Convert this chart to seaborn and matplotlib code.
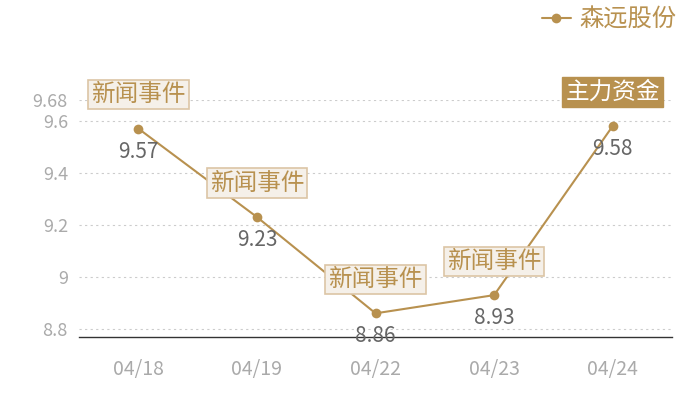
import matplotlib
matplotlib.use("Agg")
import matplotlib.pyplot as plt
import seaborn as sns
import pandas as pd

# 数据
dates = ["04/18", "04/19", "04/22", "04/23", "04/24"]
prices = [9.57, 9.23, 8.86, 8.93, 9.58]
events = ["新闻事件", "新闻事件", "新闻事件", "新闻事件", "主力资金"]
yticks = [8.8, 9.0, 9.2, 9.4, 9.6, 9.68]
ytick_labels = ["8.8", "9", "9.2", "9.4", "9.6", "9.68"]
series_name = "森远股份"

gold = "#b8914f"

sns.set_theme(style="white")
plt.rcParams["font.family"] = ["Noto Sans CJK SC", "DejaVu Sans"]

df = pd.DataFrame({"date": dates, "price": prices})

fig = plt.figure(figsize=(7, 4), dpi=100)
ax = fig.add_axes([0.113, 0.1575, 0.847, 0.5925])

sns.lineplot(data=df, x="date", y="price", marker="o", color=gold,
             linewidth=1.5, markersize=7, markeredgewidth=0,
             label=series_name, ax=ax, zorder=2)

ax.set_xlim(-0.5, len(dates) - 0.5)
ax.set_ylim(8.769, 9.68)
ax.set_yticks(yticks)
ax.set_yticklabels(ytick_labels)
ax.set_xlabel("")
ax.set_ylabel("")
ax.tick_params(axis="both", length=0, labelsize=13, colors="#aaaaaa")
ax.tick_params(axis="x", labelsize=14, pad=16)
ax.tick_params(axis="y", pad=8)
ax.yaxis.grid(True, linestyle=(0, (2, 3)), color="#cccccc", linewidth=0.8)
for s in ["top", "right", "left"]:
    ax.spines[s].set_visible(False)
ax.spines["bottom"].set_color("#333333")
ax.spines["bottom"].set_linewidth(1)

# 数值标签与事件标注
for i, (p, ev) in enumerate(zip(prices, events)):
    ax.annotate(f"{p:.2f}", (i, p), xytext=(0, -16.5), textcoords="offset points",
                ha="center", va="center", fontsize=15, color="#666666", zorder=3)
    if ev == "主力资金":
        box = dict(boxstyle="square,pad=0.13", fc=gold, ec=gold, lw=1)
        tc = "white"
    else:
        box = dict(boxstyle="square,pad=0.13", fc="#f5f0e9", ec="#dcc5a5", lw=1.2)
        tc = gold
    ax.annotate(ev, (i, p), xytext=(0, 24.5), textcoords="offset points",
                ha="center", va="center", fontsize=17, color=tc, bbox=box,
                zorder=4, annotation_clip=False)

leg = ax.legend(loc="center right", bbox_to_anchor=(0.98, 0.95),
                bbox_transform=fig.transFigure, frameon=False, fontsize=17.5,
                handlelength=1.2, handletextpad=0.35, borderaxespad=0)
for t in leg.get_texts():
    t.set_color(gold)

fig.savefig("out.png", dpi=100)
